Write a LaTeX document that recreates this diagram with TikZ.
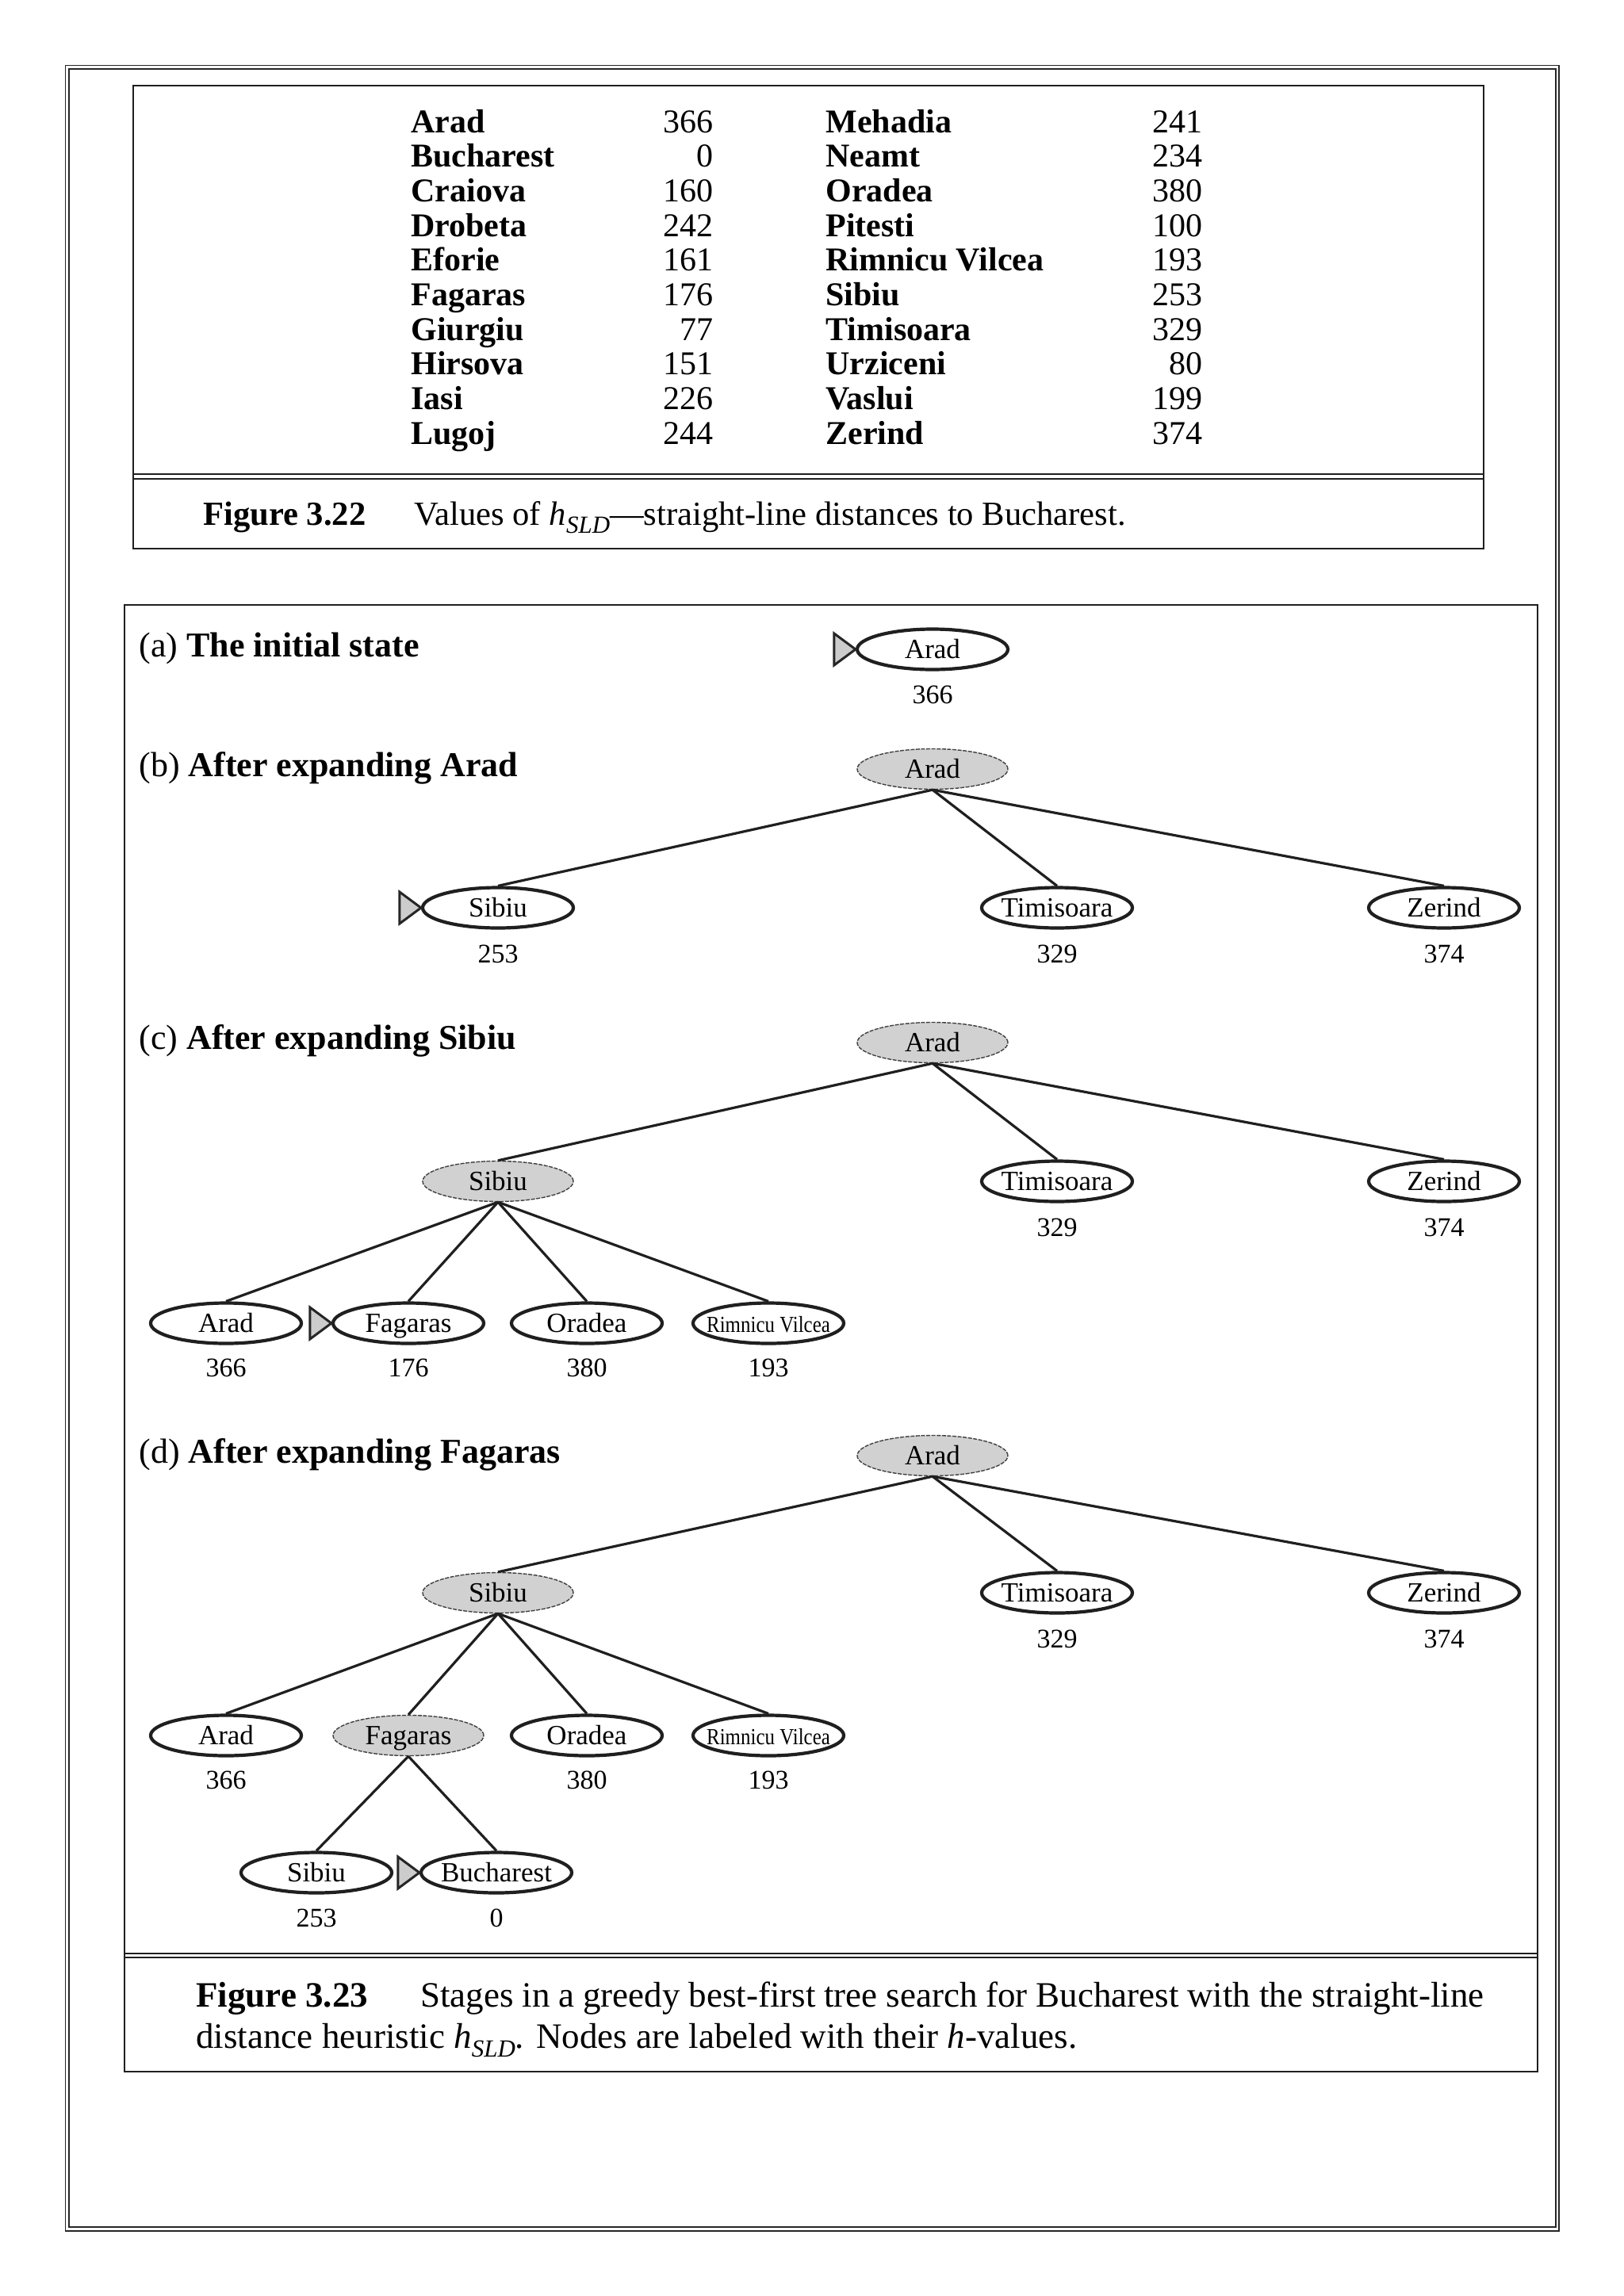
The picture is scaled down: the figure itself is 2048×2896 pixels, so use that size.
\documentclass[tikz,border=0pt]{standalone}
\usepackage{fontspec}
\setmainfont{Liberation Serif}
\usetikzlibrary{shapes.geometric}
\newcommand{\hsld}{{\itshape h}\raisebox{-0.25em}{\fontsize{15.5}{15.5}\selectfont\itshape SLD}}
\begin{document}
\begin{tikzpicture}[x=0.5pt,y=-0.5pt,
  city/.style={ellipse,draw=black!88,line width=2.1pt,minimum width=95pt,minimum height=25.5pt,
    inner xsep=-20pt,inner ysep=0pt,text height=12.5pt,text depth=1.3pt,font=\fontsize{17.5}{17.5}\selectfont},
  done/.style={city,fill=black!18,draw=black!75,line width=0.7pt,dash pattern=on 2.5pt off 0.8pt},
  hval/.style={inner sep=0pt,font=\fontsize{17}{17}\selectfont},
  edge/.style={line width=1.6pt,draw=black!88},
  frontier/.style={fill=black!20,draw=black!85,line width=1.5pt,line join=miter},
  tname/.style={anchor=base west,inner sep=0pt,font=\fontsize{21}{21}\selectfont\bfseries},
  tnum/.style={anchor=base east,inner sep=0pt,font=\fontsize{21}{21}\selectfont},
  sublabel/.style={anchor=base west,inner sep=0pt,font=\fontsize{22}{22}\selectfont},
  captext/.style={anchor=base west,inner sep=0pt,font=\fontsize{21.3}{21.3}\selectfont},
  captextb/.style={anchor=base west,inner sep=0pt,font=\fontsize{22.5}{22.5}\selectfont},
  frame/.style={line width=0.75pt,draw=black!85},
  box/.style={line width=1pt,draw=black!88}
]
\useasboundingbox (0,0) rectangle (2048,2896);
% outer double frame
\draw[frame] (82.5,82.5) rectangle (1966,2814);
\draw[frame] (87,87) rectangle (1962,2809);

% ---------------- Figure 3.22 ----------------
\draw[box] (168,108) rectangle (1871,692);
\draw[box] (168,598) -- (1871,598);
\draw[box] (168,604) -- (1871,604);
\foreach \n/\v [count=\i from 0] in {Arad/366,Bucharest/0,Craiova/160,Drobeta/242,Eforie/161,Fagaras/176,Giurgiu/77,Hirsova/151,Iasi/226,Lugoj/244}{
  \node[tname] (ln\i) at (518,167+43.67*\i) {\n};
  \node[tnum] (lv\i) at (900,167+43.67*\i) {\v};
}
\foreach \n/\v [count=\i from 0] in {Mehadia/241,Neamt/234,Oradea/380,Pitesti/100,Rimnicu Vilcea/193,Sibiu/253,Timisoara/329,Urziceni/80,Vaslui/199,Zerind/374}{
  \node[tname] (rn\i) at (1041,167+43.67*\i) {\n};
  \node[tnum] (rv\i) at (1517,167+43.67*\i) {\v};
}
\node[captext,font=\fontsize{21.3}{21.3}\selectfont\bfseries] (fig1) at (256,662) {Figure 3.22};
\node[captext] (cap1) at (522,662) {Values of \hsld---straight-line distances to Bucharest.};

% ---------------- Figure 3.23 ----------------
\draw[box] (157,763) rectangle (1939,2613);
\draw[box] (157,2464) -- (1939,2464);
\draw[box] (157,2469) -- (1939,2469);

\node[sublabel] (la) at (175,828) {(a) \textbf{The initial state}};
\node[sublabel] (lb) at (175,979) {(b) \textbf{After expanding Arad}};
\node[sublabel] (lc) at (175,1323) {(c) \textbf{After expanding Sibiu}};
\node[sublabel] (ld) at (175,1845) {(d) \textbf{After expanding Fagaras}};

% (a)
\node[city] (a-arad) at (1176,819) {Arad};
\node[hval] (a-v) at ([yshift=-28.5pt]a-arad.center) {366};
\draw[frontier] ([xshift=-13.5pt,yshift=10pt]a-arad.west) -- (a-arad.west) -- ([xshift=-13.5pt,yshift=-10pt]a-arad.west) -- cycle;

% (b)
\node[done] (b-arad) at (1176,970) {Arad};
\node[city] (b-sibiu) at (628,1145) {Sibiu};
\node[city] (b-timi) at (1333,1145) {Timisoara};
\node[city] (b-zer) at (1821,1145) {Zerind};
\foreach \c/\v in {b-sibiu/253,b-timi/329,b-zer/374}{
  \node[hval] (\c-v) at ([yshift=-29pt]\c.center) {\v};
  \draw[edge] (b-arad.south) -- (\c.north);
}
\draw[frontier] ([xshift=-13.5pt,yshift=10pt]b-sibiu.west) -- (b-sibiu.west) -- ([xshift=-13.5pt,yshift=-10pt]b-sibiu.west) -- cycle;

% (c)
\node[done] (c-arad) at (1176,1315) {Arad};
\node[done] (c-sibiu) at (628,1490) {Sibiu};
\node[city] (c-timi) at (1333,1490) {Timisoara};
\node[city] (c-zer) at (1821,1490) {Zerind};
\draw[edge] (c-arad.south) -- (c-sibiu.north);
\foreach \c/\v in {c-timi/329,c-zer/374}{
  \node[hval] (\c-v) at ([yshift=-29pt]\c.center) {\v};
  \draw[edge] (c-arad.south) -- (\c.north);
}
\node[city] (c-arad2) at (285,1669) {Arad};
\node[city] (c-fag) at (515,1669) {Fagaras};
\node[city] (c-ora) at (740,1669) {Oradea};
\node[city] (c-rv) at (969,1669) {\scalebox{0.86}[1]{\fontsize{14.5}{14.5}\selectfont Rimnicu Vilcea}};
\foreach \c/\v in {c-arad2/366,c-fag/176,c-ora/380,c-rv/193}{
  \node[hval] (\c-v) at ([yshift=-28pt]\c.center) {\v};
  \draw[edge] (c-sibiu.south) -- (\c.north);
}
\draw[frontier] ([xshift=-13.5pt,yshift=10pt]c-fag.west) -- (c-fag.west) -- ([xshift=-13.5pt,yshift=-10pt]c-fag.west) -- cycle;

% (d)
\node[done] (d-arad) at (1176,1836) {Arad};
\node[done] (d-sibiu) at (628,2009) {Sibiu};
\node[city] (d-timi) at (1333,2009) {Timisoara};
\node[city] (d-zer) at (1821,2009) {Zerind};
\draw[edge] (d-arad.south) -- (d-sibiu.north);
\foreach \c/\v in {d-timi/329,d-zer/374}{
  \node[hval] (\c-v) at ([yshift=-29pt]\c.center) {\v};
  \draw[edge] (d-arad.south) -- (\c.north);
}
\node[city] (d-arad2) at (285,2189) {Arad};
\node[done] (d-fag) at (515,2189) {Fagaras};
\node[city] (d-ora) at (740,2189) {Oradea};
\node[city] (d-rv) at (969,2189) {\scalebox{0.86}[1]{\fontsize{14.5}{14.5}\selectfont Rimnicu Vilcea}};
\draw[edge] (d-sibiu.south) -- (d-fag.north);
\foreach \c/\v in {d-arad2/366,d-ora/380,d-rv/193}{
  \node[hval] (\c-v) at ([yshift=-28pt]\c.center) {\v};
  \draw[edge] (d-sibiu.south) -- (\c.north);
}
\node[city] (d-sib2) at (399,2362) {Sibiu};
\node[city] (d-buch) at (626,2362) {Bucharest};
\foreach \c/\v in {d-sib2/253,d-buch/0}{
  \node[hval] (\c-v) at ([yshift=-28.5pt]\c.center) {\v};
  \draw[edge] (d-fag.south) -- (\c.north);
}
\draw[frontier] ([xshift=-13.5pt,yshift=10pt]d-buch.west) -- (d-buch.west) -- ([xshift=-13.5pt,yshift=-10pt]d-buch.west) -- cycle;

% caption 3.23
\node[captextb,font=\fontsize{22.5}{22.5}\selectfont\bfseries] (fig2) at (247,2531) {Figure 3.23};
\node[captextb] (cap2a) at (530,2531) {\makebox[670.5pt][s]{Stages in a greedy best-first tree search for Bucharest with the straight-line}};
\node[captextb] (cap2b) at (247,2583) {distance heuristic \hsld. Nodes are labeled with their {\itshape h}-values.};
\end{tikzpicture}
\end{document}
